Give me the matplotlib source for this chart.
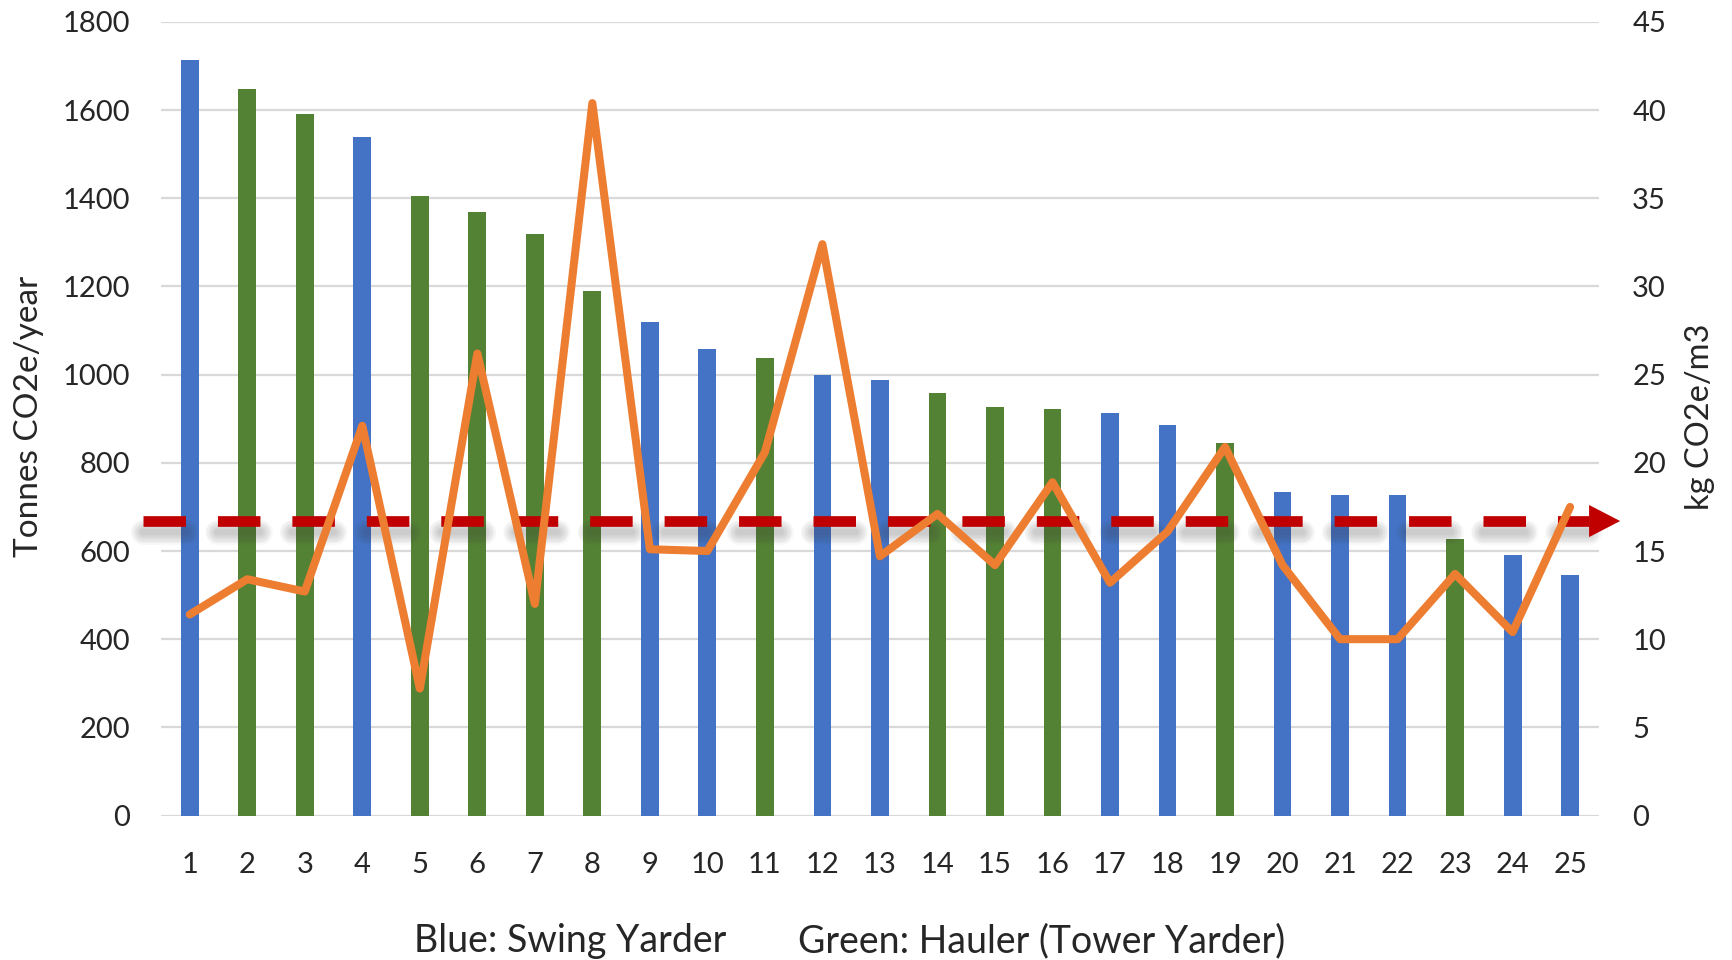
import matplotlib
matplotlib.use("Agg")
import matplotlib.pyplot as plt
import matplotlib.transforms as mtransforms
from matplotlib.patches import Polygon

plt.rcParams['font.family'] = ['Lato', 'DejaVu Sans']
plt.rcParams['lines.scale_dashes'] = False

# Operations 1..25, annual emissions (bars) and intensity per m3 (line)
operations = list(range(1, 26))
tonnes_per_year = [1714, 1649, 1591, 1539, 1406, 1370, 1320, 1189, 1120, 1058,
                   1037, 1000, 988, 959, 927, 923, 914, 886, 844, 734,
                   726, 726, 627, 590, 545]
machine_type = ['swing', 'hauler', 'hauler', 'swing', 'hauler', 'hauler', 'hauler',
                'hauler', 'swing', 'swing', 'hauler', 'swing', 'swing', 'hauler',
                'hauler', 'hauler', 'swing', 'swing', 'hauler', 'swing', 'swing',
                'swing', 'hauler', 'swing', 'swing']
kg_per_m3 = [11.4, 13.4, 12.7, 22.1, 7.2, 26.2, 12.0, 40.4, 15.1, 15.0,
             20.6, 32.4, 14.7, 17.1, 14.2, 18.9, 13.2, 16.1, 20.9, 14.2,
             10.0, 10.0, 13.7, 10.4, 17.5]
reference_kg = 16.7

left_ticks = [0, 200, 400, 600, 800, 1000, 1200, 1400, 1600, 1800]
right_ticks = [0, 5, 10, 15, 20, 25, 30, 35, 40, 45]

colors = {'swing': '#4472C4', 'hauler': '#548235'}
orange = '#ED7D31'
dark_red = '#C00000'
grid_color = '#D9D9D9'
text_color = '#262626'

fig = plt.figure(figsize=(17.33, 9.6), dpi=100)
ax = fig.add_axes([0.0929, 0.1505, 0.8297, 0.8266])
ax2 = ax.twinx()

ax.bar(operations, tonnes_per_year, width=0.31,
       color=[colors[m] for m in machine_type], zorder=2)
ax.set_xlim(0.5, 25.5)
ax.set_ylim(0, 1800)
ax.set_yticks(left_ticks)
ax.set_xticks(operations)
ax.set_axisbelow(True)
ax.grid(axis='y', color=grid_color, linewidth=1.6, zorder=0)
for s in ax.spines.values():
    s.set_visible(False)
ax.tick_params(axis='both', length=0, labelsize=21, colors=text_color)
ax.tick_params(axis='y', pad=22)
ax.tick_params(axis='x', pad=26)

ax2.set_ylim(0, 45)
ax2.set_yticks(right_ticks)
for s in ax2.spines.values():
    s.set_visible(False)
ax2.tick_params(axis='y', length=0, labelsize=21, colors=text_color, pad=24)

# Reference level: dashed arrow with a soft drop shadow below it
x_start, x_base, x_tip = 0.187, 25.33, 25.87
dash_pattern = (0, (30.6, 23.0))
shadow = ax2.transData + mtransforms.ScaledTranslation(0, -0.11, fig.dpi_scale_trans)
for w in range(4, 20, 2):
    ax2.plot([x_start, x_base], [reference_kg, reference_kg], color='#404040',
             alpha=0.035, linewidth=w, linestyle=dash_pattern,
             dash_capstyle='round', transform=shadow, clip_on=False, zorder=3)
ax2.plot([x_start, x_base], [reference_kg, reference_kg], color=dark_red,
         linewidth=7.7, linestyle=dash_pattern, dash_capstyle='butt',
         clip_on=False, zorder=4)
half_h = 0.91
ax2.add_patch(Polygon([[x_base, reference_kg - half_h], [x_base, reference_kg + half_h],
                       [x_tip, reference_kg]], closed=True, facecolor=dark_red,
                      edgecolor='none', clip_on=False, zorder=4))

ax2.plot(operations, kg_per_m3, color=orange, linewidth=5.8,
         solid_capstyle='round', solid_joinstyle='round', zorder=5)

fig.text(0.0165, 0.566, 'Tonnes CO2e/year', rotation=90, fontsize=24,
         color=text_color, ha='center', va='center')
fig.text(0.981, 0.566, 'kg CO2e/m3', rotation=90, fontsize=23.5,
         color=text_color, ha='center', va='center')
fig.text(0.329, 0.0083, 'Blue: Swing Yarder', fontsize=27, color=text_color,
         ha='center', va='baseline')
fig.text(0.601, 0.0083, 'Green: Hauler (Tower Yarder)', fontsize=27,
         color=text_color, ha='center', va='baseline')

fig.savefig('out.png', dpi=100, facecolor='white')
